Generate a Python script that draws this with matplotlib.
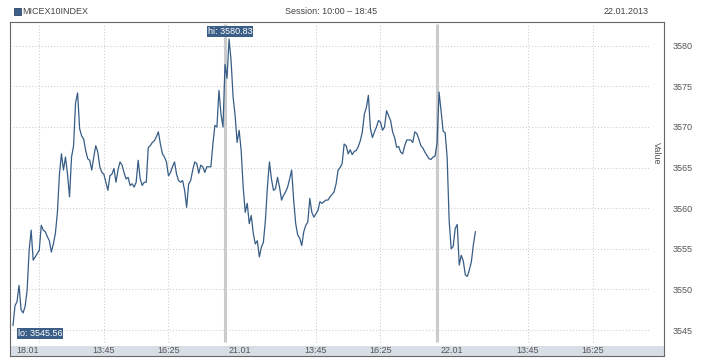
import numpy as np
import matplotlib.pyplot as plt
from matplotlib.patches import Rectangle

# 字体
plt.rcParams['font.family'] = ['Liberation Sans', 'DejaVu Sans']

# 三个交易日, 会话 10:00 - 18:45, 每 5 分钟一个点
days = ['18.01', '21.01', '22.01']
day_len = 525   # 分钟
step = 5

day1 = [3545.56, 3548.0, 3548.5, 3550.5, 3547.5, 3547.1, 3547.9, 3549.9, 3554.8, 3557.3,
        3553.6, 3554.0, 3554.4, 3554.8, 3557.9, 3557.3, 3557.1, 3556.5, 3556.0, 3554.6,
        3555.6, 3556.9, 3559.5, 3564.2, 3566.7, 3564.7, 3566.3, 3564.2, 3561.4, 3566.3,
        3567.7, 3573.0, 3574.2, 3569.8, 3568.9, 3568.5, 3567.1, 3566.1, 3565.9, 3564.7,
        3566.3, 3567.7, 3566.9, 3565.1, 3564.4, 3564.2, 3563.2, 3562.2, 3564.0, 3564.2,
        3564.9, 3563.2, 3564.7, 3565.7, 3565.3, 3564.4, 3563.6, 3563.8, 3562.8, 3563.0,
        3562.6, 3563.2, 3565.9, 3563.6, 3562.8, 3563.2, 3563.2, 3567.5, 3567.7, 3568.1,
        3568.3, 3568.8, 3569.4, 3567.9, 3566.7, 3566.3, 3565.7, 3564.0, 3564.4, 3565.1,
        3565.7, 3564.2, 3563.4, 3563.2, 3563.4, 3562.2, 3560.1, 3563.0, 3563.4, 3564.7,
        3565.7, 3565.5, 3564.3, 3565.3, 3565.1, 3564.4, 3565.1, 3565.1, 3565.1, 3567.9,
        3570.2, 3570.0, 3574.5, 3571.6, 3570.0]

day2 = [3577.7, 3576.0, 3580.83, 3578.2, 3573.7, 3571.4, 3568.1, 3569.6, 3567.1, 3562.6,
        3559.5, 3560.6, 3558.1, 3559.1, 3556.9, 3555.6, 3556.0, 3554.0, 3555.2, 3555.8,
        3558.5, 3562.6, 3565.7, 3563.6, 3562.2, 3562.4, 3563.8, 3562.6, 3561.0, 3561.6,
        3562.0, 3562.6, 3563.6, 3564.7, 3561.0, 3558.1, 3556.7, 3556.3, 3555.4, 3557.1,
        3557.9, 3558.3, 3561.2, 3559.5, 3558.9, 3559.3, 3559.7, 3560.8, 3560.6, 3560.8,
        3561.0, 3561.0, 3561.4, 3561.7, 3562.0, 3563.0, 3564.7, 3565.0, 3565.5, 3567.9,
        3567.7, 3566.7, 3567.2, 3566.6, 3567.0, 3567.1, 3567.6, 3568.3, 3569.4, 3571.6,
        3572.4, 3573.9, 3569.8, 3568.7, 3569.4, 3570.0, 3570.8, 3570.6, 3569.6, 3570.0,
        3572.0, 3571.4, 3570.8, 3569.4, 3568.7, 3567.5, 3567.6, 3566.9, 3566.7, 3567.7,
        3568.4, 3568.4, 3568.4, 3568.1, 3569.4, 3569.2, 3568.5, 3567.7, 3567.4, 3566.9,
        3566.5, 3566.1, 3566.0, 3566.3, 3566.4]

day3 = [3568.0, 3574.3, 3572.0, 3569.5, 3569.3, 3566.3, 3558.5, 3555.0, 3555.3, 3557.5,
        3558.0, 3553.0, 3554.2, 3553.5, 3551.8, 3551.6, 3552.4, 3553.4, 3555.5, 3557.1]

grid_times = [[65, 225, 385], [225, 385], [225, 385]]   # 网格线 (距 10:00 的分钟)
time_labels = ['13:45', '16:25']
date_label_offset = 37
y_ticks = [3545, 3550, 3555, 3560, 3565, 3570, 3575, 3580]

series = [day1, day2, day3]
x = np.concatenate([i * day_len + np.arange(len(d)) * step for i, d in enumerate(series)])
y = np.concatenate(series)

fig = plt.figure(figsize=(7.18, 3.6), dpi=100)
ax = fig.add_axes([10 / 718, 4 / 360, 654 / 718, 334 / 360])
ax.set_xlim(-7.4, 1612)
ax.set_ylim(3541.8, 3582.93)

# 底部标签带
ax.add_patch(Rectangle((0, 0), 1, 10 / 334, transform=ax.transAxes,
                       facecolor='#d7dee6', edgecolor='none', zorder=0))

# 网格
ax.hlines(y_ticks, 0, 3 * day_len, colors='#cccccc', linestyles=(0, (1, 2)), lw=0.75, zorder=1)
gx = [i * day_len + t for i, ts in enumerate(grid_times) for t in ts]
ax.vlines(gx, 3543.5, 3582.8, colors='#cccccc', linestyles=(0, (1, 2)), lw=0.75, zorder=1)

# 日期分隔
ax.vlines([day_len, 2 * day_len], 3543.52, 3582.68, colors='#cbcbcb', lw=2.2, zorder=2)

ax.plot(x, y, color='#375d86', lw=0.9, zorder=3)

# 刻度
xt, xl = [], []
for i, d in enumerate(days):
    xt.append(i * day_len + date_label_offset)
    xl.append(d)
    for t, lab in zip([225, 385], time_labels):
        xt.append(i * day_len + t)
        xl.append(lab)
ax.set_xticks(xt)
ax.set_xticklabels(xl)
ax.tick_params(axis='x', length=0, pad=-7.0, labelsize=6.5, labelcolor='#555555')

ax.yaxis.tick_right()
ax.set_yticks(y_ticks)
ax.tick_params(axis='y', length=0, pad=6.5, labelsize=6.5, labelcolor='#555555')

for s in ax.spines.values():
    s.set_color('#666666')
    s.set_linewidth(0.8)

# 最高/最低标注
i_hi = int(np.argmax(y))
i_lo = int(np.argmin(y))
box = dict(boxstyle='square,pad=0.12', fc='#3b5f87', ec='none')
ax.annotate(f'hi: {y[i_hi]:.2f}', xy=(x[i_hi], y[i_hi]), xytext=(0.7, 5.2),
            textcoords='offset points', ha='center', va='center',
            color='white', fontsize=6.5, bbox=box, zorder=5)
ax.annotate(f'lo: {y[i_lo]:.2f}', xy=(x[i_lo], y[i_lo]), xytext=(19.4, -5.8),
            textcoords='offset points', ha='center', va='center',
            color='white', fontsize=6.5, bbox=box, zorder=5)

# 标题行
fig.patches.append(Rectangle((14 / 718, 1 - 15 / 360), 7 / 718, 7 / 360,
                             transform=fig.transFigure, facecolor='#3b5f87',
                             edgecolor='#2a4466', lw=0.6))
fig.text(22 / 718, 1 - 12 / 360, 'MICEX10INDEX', va='center', fontsize=6.5, color='#444444')
fig.text(331 / 718, 1 - 12 / 360, 'Session: 10:00 – 18:45', ha='center', va='center',
         fontsize=6.5, color='#444444')
fig.text(649 / 718, 1 - 12 / 360, '22.01.2013', ha='right', va='center',
         fontsize=6.5, color='#444444')
fig.text(656 / 718, 1 - 153 / 360, 'Value', rotation=270, ha='center', va='center',
         fontsize=6.5, color='#555555')

fig.savefig('out.png', dpi=100)
